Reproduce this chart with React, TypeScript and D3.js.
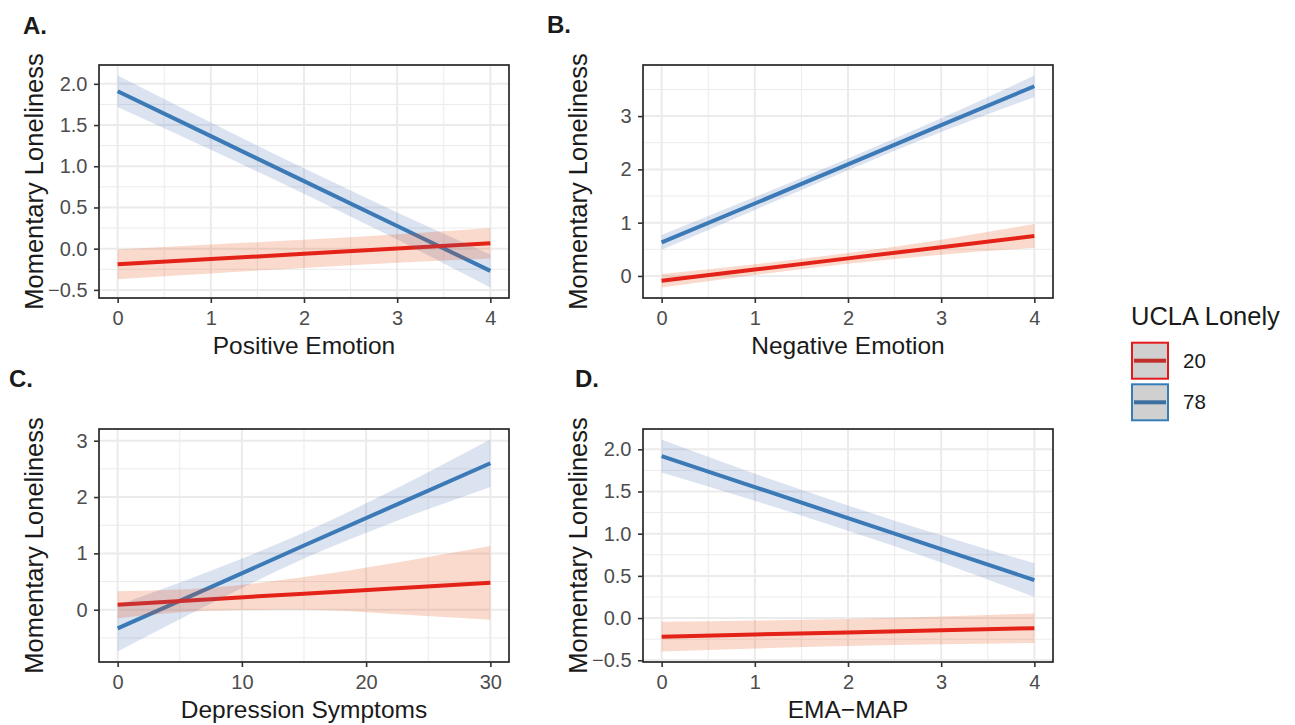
import React, { useEffect, useRef } from 'react';
import * as d3 from 'd3';

// UCLA Lonely groups (legend)
const groups = ['20', '78'];
const lineColors = ['#E41A1C', '#377EB8'];
const bandColors = ['#E64605', '#4B6EB4'];
const keyLineColors = ['#C0302B', '#3A6FA0'];

// x positions where the fitted values are read
const emotionX = [0, 1, 2, 3, 4];
const depressionX = [0, 7.5, 15, 22.5, 30];

// tick values
const emotionTicks = [0, 1, 2, 3, 4];
const depressionTicks = [0, 10, 20, 30];
const halfTicks = [-0.5, 0, 0.5, 1, 1.5, 2];
const unitTicks = [0, 1, 2, 3];

// A. Positive Emotion
const posFit20 = [-0.19, -0.126, -0.063, 0.001, 0.065];
const posLow20 = [-0.37, -0.3, -0.233, -0.17, -0.12];
const posHigh20 = [-0.01, 0.05, 0.107, 0.175, 0.25];
const posFit78 = [1.91, 1.365, 0.82, 0.275, -0.27];
const posLow78 = [1.72, 1.2, 0.665, 0.11, -0.47];
const posHigh78 = [2.1, 1.53, 0.975, 0.44, -0.07];

// B. Negative Emotion
const negFit20 = [-0.09, 0.12, 0.33, 0.54, 0.75];
const negLow20 = [-0.215, 0.02, 0.23, 0.4, 0.525];
const negHigh20 = [0.035, 0.22, 0.43, 0.68, 0.975];
const negFit78 = [0.63, 1.36, 2.095, 2.83, 3.56];
const negLow78 = [0.49, 1.24, 1.985, 2.7, 3.36];
const negHigh78 = [0.77, 1.48, 2.205, 2.96, 3.76];

// C. Depression Symptoms
const depFit20 = [0.09, 0.1875, 0.285, 0.3825, 0.48];
const depLow20 = [-0.15, -0.02, 0.0, -0.08, -0.18];
const depHigh20 = [0.33, 0.39, 0.58, 0.84, 1.13];
const depFit78 = [-0.33, 0.4, 1.14, 1.87, 2.6];
const depLow78 = [-0.74, 0.11, 0.91, 1.58, 2.18];
const depHigh78 = [0.08, 0.69, 1.37, 2.16, 3.02];

// D. EMA-MAP
const mapFit20 = [-0.22, -0.195, -0.17, -0.145, -0.12];
const mapLow20 = [-0.395, -0.36, -0.33, -0.31, -0.295];
const mapHigh20 = [-0.045, -0.03, -0.01, 0.02, 0.055];
const mapFit78 = [1.92, 1.5525, 1.185, 0.8175, 0.45];
const mapLow78 = [1.725, 1.39, 1.035, 0.66, 0.25];
const mapHigh78 = [2.115, 1.71, 1.335, 0.98, 0.65];

const FONT = "'Liberation Sans', Arial, Helvetica, sans-serif";

const App = () => {
  const ref = useRef<SVGSVGElement>(null);

  useEffect(() => {
    const width = 1295;
    const height = 725;
    const pw = 410;
    const ph = 233;

    const svg = d3.select(ref.current);
    svg.selectAll('*').remove();
    svg.attr('width', width).attr('height', height);

    const panels = [
      {
        label: 'A.', lx: 23, ly: 34, left: 99, top: 65, title: 'Positive Emotion',
        xs: emotionX, xTicks: emotionTicks, yTicks: halfTicks, yFmt: '.1f', xFmt: 'd',
        fits: [posFit20, posFit78], lows: [posLow20, posLow78], highs: [posHigh20, posHigh78],
      },
      {
        label: 'B.', lx: 547, ly: 33, left: 643, top: 65, title: 'Negative Emotion',
        xs: emotionX, xTicks: emotionTicks, yTicks: unitTicks, yFmt: 'd', xFmt: 'd',
        fits: [negFit20, negFit78], lows: [negLow20, negLow78], highs: [negHigh20, negHigh78],
      },
      {
        label: 'C.', lx: 9, ly: 387, left: 99, top: 429, title: 'Depression Symptoms',
        xs: depressionX, xTicks: depressionTicks, yTicks: unitTicks, yFmt: 'd', xFmt: 'd',
        fits: [depFit20, depFit78], lows: [depLow20, depLow78], highs: [depHigh20, depHigh78],
      },
      {
        label: 'D.', lx: 575, ly: 387, left: 643, top: 429, title: 'EMA\u2212MAP',
        xs: emotionX, xTicks: emotionTicks, yTicks: halfTicks, yFmt: '.1f', xFmt: 'd',
        fits: [mapFit20, mapFit78], lows: [mapLow20, mapLow78], highs: [mapHigh20, mapHigh78],
      },
    ];

    // ggplot style 5% expansion
    const expand = ([a, b]: [number, number]) => {
      const pad = (b - a) * 0.05;
      return [a - pad, b + pad];
    };

    // minor breaks halfway between majors
    const minors = (ticks: number[], dom: number[]) => {
      const step = ticks[1] - ticks[0];
      return d3.range(ticks[0] - step / 2, ticks[ticks.length - 1] + step, step)
        .filter(v => v > dom[0] && v < dom[1]);
    };

    panels.forEach(p => {
      const xDom = expand(d3.extent(p.xs) as [number, number]);
      const yAll = [...p.lows[0], ...p.lows[1], ...p.highs[0], ...p.highs[1]];
      const yDom = expand(d3.extent(yAll) as [number, number]);

      const x = d3.scaleLinear().domain(xDom).range([p.left, p.left + pw]);
      const y = d3.scaleLinear().domain(yDom).range([p.top + ph, p.top]);

      const g = svg.append('g');

      g.append('rect')
        .attr('x', p.left).attr('y', p.top)
        .attr('width', pw).attr('height', ph)
        .attr('fill', '#ffffff');

      // grid, minor then major
      const grid = g.append('g').attr('stroke', '#ebebeb');
      minors(p.xTicks, xDom).forEach(v => {
        grid.append('line').attr('x1', x(v)).attr('x2', x(v))
          .attr('y1', p.top).attr('y2', p.top + ph).attr('stroke-width', 1);
      });
      minors(p.yTicks, yDom).forEach(v => {
        grid.append('line').attr('y1', y(v)).attr('y2', y(v))
          .attr('x1', p.left).attr('x2', p.left + pw).attr('stroke-width', 1);
      });
      p.xTicks.forEach(v => {
        grid.append('line').attr('x1', x(v)).attr('x2', x(v))
          .attr('y1', p.top).attr('y2', p.top + ph).attr('stroke-width', 2);
      });
      p.yTicks.forEach(v => {
        grid.append('line').attr('y1', y(v)).attr('y2', y(v))
          .attr('x1', p.left).attr('x2', p.left + pw).attr('stroke-width', 2);
      });

      // fitted lines
      const line = d3.line<number>()
        .x((d, i) => x(p.xs[i]))
        .y(d => y(d));
      [1, 0].forEach(k => {
        g.append('path')
          .datum(p.fits[k])
          .attr('fill', 'none')
          .attr('stroke', lineColors[k])
          .attr('stroke-width', 4)
          .attr('d', line);
      });

      // confidence ribbons drawn over the lines
      [1, 0].forEach(k => {
        const area = d3.area<number>()
          .x((d, i) => x(p.xs[i]))
          .y0((d, i) => y(p.lows[k][i]))
          .y1(d => y(d))
          .curve(d3.curveMonotoneX);
        g.append('path')
          .datum(p.highs[k])
          .attr('fill', bandColors[k])
          .attr('fill-opacity', 0.2)
          .attr('d', area);
      });

      // panel border
      g.append('rect')
        .attr('x', p.left).attr('y', p.top)
        .attr('width', pw).attr('height', ph)
        .attr('fill', 'none')
        .attr('stroke', '#1a1a1a')
        .attr('stroke-width', 1.6);

      // axes
      const xAxis = g.append('g')
        .attr('transform', `translate(0, ${p.top + ph})`)
        .call(d3.axisBottom(x).tickValues(p.xTicks).tickSize(5).tickPadding(8)
          .tickFormat(d3.format(p.xFmt)));
      const yAxis = g.append('g')
        .attr('transform', `translate(${p.left}, 0)`)
        .call(d3.axisLeft(y).tickValues(p.yTicks).tickSize(5).tickPadding(6.5)
          .tickFormat(d3.format(p.yFmt)));
      [xAxis, yAxis].forEach(a => {
        a.select('.domain').remove();
        a.selectAll('line').attr('stroke', '#333333').attr('stroke-width', 1.6);
        a.selectAll('text')
          .attr('fill', '#4d4d4d')
          .style('font-family', FONT)
          .style('font-size', '20px');
      });

      // titles
      g.append('text')
        .attr('x', p.left + pw / 2)
        .attr('y', p.top + ph + 56)
        .attr('text-anchor', 'middle')
        .style('font-family', FONT)
        .style('font-size', '24.5px')
        .attr('fill', '#1a1a1a')
        .text(p.title);

      g.append('text')
        .attr('transform', `translate(${p.left - 56}, ${p.top + ph / 2}) rotate(-90)`)
        .attr('text-anchor', 'middle')
        .style('font-family', FONT)
        .style('font-size', '25.5px')
        .attr('fill', '#1a1a1a')
        .text('Momentary Loneliness');

      g.append('text')
        .attr('x', p.lx)
        .attr('y', p.ly)
        .style('font-family', FONT)
        .style('font-size', '24px')
        .style('font-weight', 'bold')
        .attr('fill', '#1a1a1a')
        .text(p.label);
    });

    // Legend
    const legend = svg.append('g');
    legend.append('text')
      .attr('x', 1131)
      .attr('y', 325)
      .style('font-family', FONT)
      .style('font-size', '25.5px')
      .attr('fill', '#1a1a1a')
      .text('UCLA Lonely');

    groups.forEach((grp, k) => {
      const ky = 342.7 + k * 41.6;
      legend.append('rect')
        .attr('x', 1132).attr('y', ky)
        .attr('width', 36).attr('height', 36)
        .attr('fill', '#d0d0d0')
        .attr('stroke', lineColors[k])
        .attr('stroke-width', 2);
      legend.append('line')
        .attr('x1', 1134).attr('x2', 1166)
        .attr('y1', ky + 18).attr('y2', ky + 18)
        .attr('stroke', keyLineColors[k])
        .attr('stroke-width', 4);
      legend.append('text')
        .attr('x', 1183)
        .attr('y', ky + 18)
        .attr('dy', '0.35em')
        .style('font-family', FONT)
        .style('font-size', '20.5px')
        .attr('fill', '#1a1a1a')
        .text(grp);
    });
  }, []);

  return (
    <svg ref={ref} style={{ position: 'absolute', left: 0, top: 0, background: '#ffffff' }}></svg>
  );
};

export default App;
